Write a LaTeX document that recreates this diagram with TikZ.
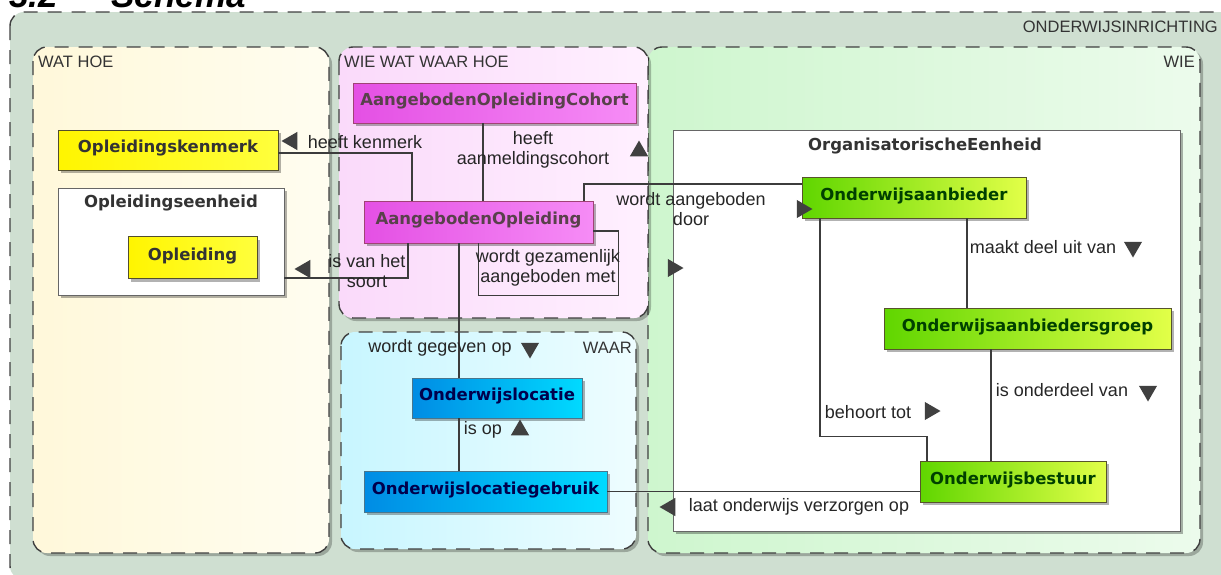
\documentclass[tikz,border=0pt]{standalone}
\usepackage{fontspec}
\setmainfont{Liberation Sans}
\newfontfamily\boxfont{DejaVu Sans}
\usepackage{tikz}
\usetikzlibrary{shapes.geometric, shadows}

\definecolor{inrichting}{RGB}{207,223,209}
\definecolor{watA}{RGB}{255,248,218}
\definecolor{watB}{RGB}{255,253,240}
\definecolor{wieA}{RGB}{206,246,206}
\definecolor{wieB}{RGB}{236,251,236}
\definecolor{wwwhA}{RGB}{250,218,250}
\definecolor{wwwhB}{RGB}{255,240,255}
\definecolor{waarA}{RGB}{200,246,255}
\definecolor{waarB}{RGB}{238,253,255}
\definecolor{geelA}{RGB}{255,245,0}
\definecolor{geelB}{RGB}{255,255,60}
\definecolor{roseA}{RGB}{228,80,228}
\definecolor{roseB}{RGB}{246,140,246}
\definecolor{blauwA}{RGB}{0,140,228}
\definecolor{blauwB}{RGB}{0,218,255}
\definecolor{groenA}{RGB}{96,214,0}
\definecolor{groenB}{RGB}{226,255,72}
\definecolor{lijnkleur}{RGB}{60,60,60}

\begin{document}
\begin{tikzpicture}[x=1pt, y=-1pt,
    pakket/.style={draw=black!75, line width=1.4pt, dash pattern=on 14pt off 10pt, rounded corners=14pt,
      drop shadow={shadow xshift=3pt, shadow yshift=-3pt, fill=black, opacity=0.25}},
    pktnaam/.style={font=\fontsize{16.5}{18}\selectfont, text=black!80, inner sep=0pt},
    klasse/.style={line width=0.8pt, minimum height=41pt, inner sep=0pt, text height=13pt, text depth=8pt,
      font=\boxfont\bfseries\fontsize{16.5}{18}\selectfont,
      drop shadow={shadow xshift=3pt, shadow yshift=-3pt, fill=black, opacity=0.3}},
    geel/.style={klasse, draw=black!55!olive, left color=geelA, right color=geelB, text=black!80},
    roze/.style={klasse, draw=black!40!magenta, left color=roseA, right color=roseB, text=black!75!magenta},
    blauw/.style={klasse, draw=black!50!cyan, left color=blauwA, right color=blauwB, text=black!70!blue},
    groen/.style={klasse, draw=black!50!olive, left color=groenA, right color=groenB, text=black!75!green},
    kader/.style={draw=black!60, fill=white, line width=0.8pt, inner sep=0pt,
      drop shadow={shadow xshift=3pt, shadow yshift=-3pt, fill=black, opacity=0.3}},
    kadernaam/.style={font=\boxfont\bfseries\fontsize{16.5}{18}\selectfont, text=black!80, inner sep=0pt},
    rol/.style={font=\fontsize{18}{20}\selectfont, align=center, inner sep=0pt, text=black!85},
    lijn/.style={draw=lijnkleur, line width=1.1pt},
    pijl/.style={regular polygon, regular polygon sides=3, fill=black!75, inner sep=0pt, minimum size=21pt},
    pijlL/.style={pijl, shape border rotate=90},
    pijlR/.style={pijl, shape border rotate=270},
    pijlO/.style={pijl, shape border rotate=0},
    pijlN/.style={pijl, shape border rotate=180}]
  \useasboundingbox (0,0) rectangle (1221,574);

  % pakketten
  \draw[pakket, fill=inrichting] (10,12) rectangle (1236,580);
  \node[anchor=base west, font=\bfseries\itshape\fontsize{35}{40}\selectfont] (titel) at (6,7) {3.2\hspace{17pt}–\hspace{17pt}Schema};
  \node[pktnaam, anchor=east] (inrichtingNaam) at (1218,27) {ONDERWIJSINRICHTING};
  \draw[pakket, left color=watA, right color=watB] (33,47) rectangle (329,553);
  \node[pktnaam, anchor=west] (watNaam) at (38,62) {WAT HOE};
  \draw[pakket, left color=wieA, right color=wieB] (648,47) rectangle (1200,553);
  \node[pktnaam, anchor=east] (wieNaam) at (1195,62) {WIE};
  \draw[pakket, left color=wwwhA, right color=wwwhB] (339,47) rectangle (648,318);
  \node[pktnaam, anchor=west] (wwwhNaam) at (344,62) {WIE WAT WAAR HOE};
  \draw[pakket, left color=waarA, right color=waarB] (341,332) rectangle (636,549);
  \node[pktnaam, anchor=east] (waarNaam) at (632,348) {WAAR};

  % kaders
  \node[kader, minimum width=226pt, minimum height=107pt] (eenheid) at (171,241.5) {};
  \node[kadernaam] (eenheidNaam) at (171,203) {Opleidingseenheid};
  \node[kader, minimum width=507pt, minimum height=401pt] (orgEenheid) at (926.5,330.5) {};
  \node[kadernaam] (orgNaam) at (925,146) {OrganisatorischeEenheid};

  % klassen
  \node[geel, minimum width=220pt, minimum height=40pt] (kenmerk) at (168,150) {Opleidingskenmerk};
  \node[geel, minimum width=129pt, minimum height=42pt] (opleiding) at (192.5,257.5) {Opleiding};
  \node[roze, minimum width=283pt, minimum height=40pt] (cohort) at (494.5,103) {AangebodenOpleidingCohort};
  \node[roze, minimum width=229pt, minimum height=42pt] (aangOpl) at (478.5,222) {AangebodenOpleiding};
  \node[blauw, minimum width=170pt, minimum height=40pt] (locatie) at (497,398) {Onderwijslocatie};
  \node[blauw, minimum width=243pt] (gebruik) at (485.5,491.5) {Onderwijslocatiegebruik};
  \node[groen, minimum width=224pt] (aanbieder) at (914,197.5) {Onderwijsaanbieder};
  \node[groen, minimum width=287pt] (aanbGroep) at (1027.5,328.5) {Onderwijsaanbiedersgroep};
  \node[groen, minimum width=186pt] (bestuur) at (1013,481.5) {Onderwijsbestuur};

  % verbindingen
  \draw[lijn] ([xshift=-66.5pt]aangOpl.north) |- ([yshift=-3pt]kenmerk.east);
  \coordinate (cohortVoet) at ([xshift=-11.5pt]cohort.south);
  \draw[lijn] (cohortVoet) -- (cohortVoet |- aangOpl.north);
  \draw[lijn] ([xshift=105.5pt]aangOpl.north) |- ([yshift=13.5pt]aanbieder.west);
  \coordinate (lusOnder) at ([yshift=-52pt]aangOpl.south);
  \draw[lijn] ([yshift=-9pt]aangOpl.east) -- ++(25,0) |- (lusOnder) -- (aangOpl.south);
  \draw[lijn] ([xshift=-70.5pt]aangOpl.south) |- ([yshift=-36.5pt]eenheid.east);
  \draw[lijn] ([xshift=-19.5pt]aangOpl.south) -- ([xshift=-38pt]locatie.north);
  \draw[lijn] ([xshift=-38pt]locatie.south) -- ([xshift=-26.5pt]gebruik.north);
  \draw[lijn] (gebruik.east) -- (gebruik.east -| bestuur.west);
  \draw[lijn] ([xshift=53pt]aanbieder.south) -- ([xshift=-60.5pt]aanbGroep.north);
  \draw[lijn] ([xshift=-36.5pt]aanbGroep.south) -- ([xshift=-22pt]bestuur.north);
  \coordinate (knik) at ([xshift=-86pt, yshift=24pt]bestuur.north);
  \draw[lijn] ([xshift=-94pt]aanbieder.south) |- (knik) -- ([xshift=-86pt]bestuur.north);

  % rollen
  \node[rol] (kenmerkRol) at (365,142) {heeft kenmerk};
  \node[pijlL] (kenmerkPijl) at (292,141) {};
  \node[rol] (soortRol) at (367,271) {is van het\\soort};
  \node[pijlL] (soortPijl) at (305,269) {};
  \node[rol] (cohortRol) at (533,150) {heeft\\aanmeldingscohort};
  \node[pijlO] (cohortPijl) at (639,151) {};
  \node[rol] (aanbodRol) at (691,209) {wordt aangeboden\\door};
  \node[pijlR] (aanbodPijl) at (802,209) {};
  \node[rol] (samenRol) at (548,268) {wordt gezamenlijk\\aangeboden met};
  \node[pijlR] (samenPijl) at (673,268) {};
  \node[rol] (gegevenRol) at (440,348) {wordt gegeven op};
  \node[pijlN] (gegevenPijl) at (530,348) {};
  \node[rol] (opRol) at (483,430) {is op};
  \node[pijlO] (opPijl) at (520,430) {};
  \node[rol] (verzorgRol) at (799,507) {laat onderwijs verzorgen op};
  \node[pijlL] (verzorgPijl) at (670,507) {};
  \node[rol] (deelRol) at (1043,247) {maakt deel uit van};
  \node[pijlN] (deelPijl) at (1133,247) {};
  \node[rol] (onderdeelRol) at (1062,390) {is onderdeel van};
  \node[pijlN] (onderdeelPijl) at (1148,391) {};
  \node[rol] (behoortRol) at (868,412) {behoort tot};
  \node[pijlR] (behoortPijl) at (930,411) {};
\end{tikzpicture}
\end{document}
